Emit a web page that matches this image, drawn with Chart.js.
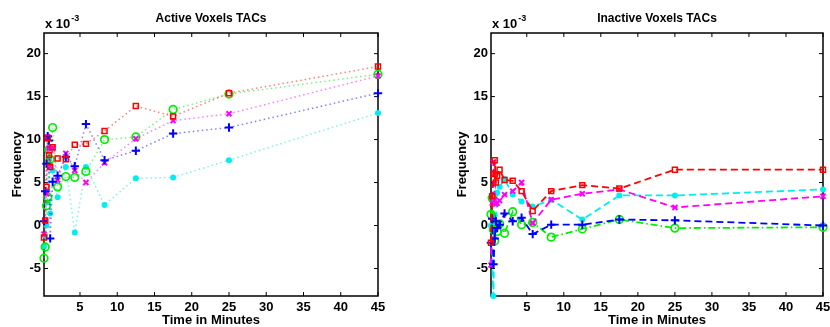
<!DOCTYPE html>
<html>
<head>
<meta charset="utf-8">
<script src="https://cdn.jsdelivr.net/npm/chart.js@4.4.0/dist/chart.umd.min.js"></script>
<style>
  html, body { margin: 0; padding: 0; background: #fff; }
  #wrap { position: relative; width: 830px; height: 327px; }
  .box { position: absolute; top: 0; height: 327px; }
</style>
</head>
<body>
<div id="wrap">
  <div class="box" style="left:0;width:415px"><canvas id="active" width="415" height="327"></canvas></div>
  <div class="box" style="left:442px;width:388px"><canvas id="inactive" width="388" height="327"></canvas></div>
</div>
<script>
// frame times (minutes) and axis ticks
const times = [0.17, 0.33, 0.5, 0.67, 0.83, 1.0, 1.33, 2.0, 3.1, 4.3, 5.8, 8.3, 12.5, 17.5, 25, 45];
const xTicks = [5, 10, 15, 20, 25, 30, 35, 40, 45];
const yTicks = [-5, 0, 5, 10, 15, 20];

// values are in units of 10^-3
const activeRed     = [-1.4, 0.6, 4.5, 10.2, 8.2, 6.8, 9.1, 7.8, 7.7, 9.4, 9.5, 11.0, 13.9, 12.7, 15.4, 18.5];
const activeBlue    = [0.5, 4.0, 7.2, 10.4, 9.9, -1.5, 5.1, 5.8, 8.0, 6.9, 11.8, 7.6, 8.7, 10.7, 11.4, 15.4];
const activeMagenta = [-1.0, 0.5, 3.7, 10.3, 9.0, 6.9, 9.0, 5.3, 8.4, 6.4, 5.0, 7.3, 10.1, 12.2, 13.0, 17.4];
const activeGreen   = [-3.8, -2.5, 2.3, 3.3, 8.8, 7.7, 11.4, 4.5, 5.7, 5.6, 6.3, 10.0, 10.3, 13.5, 15.3, 17.6];
const activeCyan    = [-2.4, -1.2, 0.0, 2.7, 7.7, 1.4, 6.4, 3.3, 6.8, -0.8, 6.8, 2.4, 5.5, 5.6, 7.6, 13.1];

const inactiveRed     = [-2.0, 3.4, 6.0, 7.6, 5.0, 5.8, 6.5, 5.3, 5.2, 4.0, 1.7, 4.0, 4.7, 4.3, 6.5, 6.5];
const inactiveBlue    = [-2.0, 0.8, -4.5, -1.5, 0.5, -0.3, 0.1, 1.4, 0.5, 0.9, -1.0, 0.1, 0.1, 0.7, 0.6, 0.0];
const inactiveMagenta = [-4.6, 2.6, 7.4, 3.0, 2.5, 2.6, 2.9, 3.6, 4.0, 5.0, 0.3, 3.0, 3.7, 4.2, 2.1, 3.4];
const inactiveGreen   = [1.3, 3.2, -0.5, -1.8, 0.0, -0.7, 0.2, -0.9, 1.6, 0.1, 0.35, -1.35, -0.4, 0.7, -0.3, -0.2];
const inactiveCyan    = [0.0, -4.2, -8.2, 1.2, 0.2, 3.8, 4.5, 5.4, 3.6, 2.8, 2.2, 3.0, 0.7, 3.5, 3.5, 4.2];

const family = '"Liberation Sans", Arial, Helvetica, sans-serif';

// marker look per series (matlab s, +, x, o, .)
const markers = {
    red:     {color: '#ff0000', style: 'rect',     radius: 3.5, width: 1.5, fill: false},
    blue:    {color: '#0000ff', style: 'cross',    radius: 4.2, width: 2,   fill: false},
    magenta: {color: '#ff00ff', style: 'crossRot', radius: 3.5, width: 2,   fill: false},
    green:   {color: '#00ee00', style: 'circle',   radius: 3.8, width: 1.7, fill: false},
    cyan:    {color: '#00eeee', style: 'circle',   radius: 3,   width: 0,   fill: true}
};

function makeSet(vals, name, lineColor, dash, lineWidth) {
    const m = markers[name];
    return {
        data: times.map((t, i) => ({x: t, y: vals[i]})),
        borderColor: lineColor,
        borderWidth: lineWidth,
        borderDash: dash,
        fill: false,
        tension: 0,
        pointStyle: m.style,
        pointRadius: m.radius,
        pointBorderWidth: m.width,
        pointBorderColor: m.color,
        pointBackgroundColor: m.fill ? m.color : 'rgba(0,0,0,0)',
        clip: false
    };
}

const matlabAxes = {
    id: 'matlabAxes',
    beforeDatasetsDraw(chart) {
        const {ctx, chartArea: a, scales: {x, y}} = chart;
        ctx.save();
        ctx.strokeStyle = '#000';
        ctx.lineWidth = 1.5;
        ctx.strokeRect(a.left, a.top, a.right - a.left, a.bottom - a.top);
        ctx.beginPath();
        for (const t of xTicks) {
            const px = x.getPixelForValue(t);
            ctx.moveTo(px, a.bottom); ctx.lineTo(px, a.bottom - 4);
            ctx.moveTo(px, a.top); ctx.lineTo(px, a.top + 4);
        }
        for (const t of yTicks) {
            const py = y.getPixelForValue(t);
            ctx.moveTo(a.left, py); ctx.lineTo(a.left + 4, py);
            ctx.moveTo(a.right, py); ctx.lineTo(a.right - 4, py);
        }
        ctx.lineWidth = 1;
        ctx.stroke();
        ctx.restore();
    },
    afterDraw(chart) {
        const {ctx, chartArea: a} = chart;
        ctx.save();
        ctx.fillStyle = '#000';
        ctx.textBaseline = 'alphabetic';
        ctx.font = 'bold 13px ' + family;
        ctx.fillText('x 10', a.left + 1, 28);
        const w = ctx.measureText('x 10').width;
        ctx.font = 'bold 9px ' + family;
        ctx.fillText('-3', a.left + 2 + w, 21);
        ctx.restore();
    }
};

function makeChart(id, title, sets, yWidth, titlePad, padRight) {
    const tickFont = {family: family, size: 13, weight: 'bold'};
    return new Chart(document.getElementById(id), {
        type: 'line',
        data: {datasets: sets},
        plugins: [matlabAxes],
        options: {
            responsive: false,
            animation: false,
            layout: {padding: {top: 0, right: padRight, bottom: 0, left: 0}},
            plugins: {
                legend: {display: false},
                tooltip: {enabled: false},
                title: {
                    display: true, text: title, color: '#000', fullSize: false,
                    font: {family: family, size: 12, weight: 'bold', lineHeight: 1.2},
                    padding: {top: 11, bottom: 7.6}
                }
            },
            scales: {
                x: {
                    type: 'linear', min: 0.17, max: 45,
                    afterBuildTicks: s => { s.ticks = xTicks.map(v => ({value: v})); },
                    afterFit: s => { s.height = 31; s.paddingLeft = 0; s.paddingRight = 0; },
                    grid: {display: false, drawTicks: false},
                    border: {display: false},
                    ticks: {color: '#000', font: tickFont, padding: 4, maxRotation: 0, autoSkip: false},
                    title: {
                        display: true, text: 'Time in Minutes', color: '#000',
                        font: {family: family, size: 13, weight: 'bold', lineHeight: 1},
                        padding: {top: 0, bottom: 0}
                    }
                },
                y: {
                    type: 'linear', min: -8.2, max: 22.4,
                    afterBuildTicks: s => { s.ticks = yTicks.map(v => ({value: v})); },
                    afterFit: s => { s.width = yWidth; s.paddingTop = 0; s.paddingBottom = 0; },
                    grid: {display: false, drawTicks: false},
                    border: {display: false},
                    ticks: {color: '#000', font: tickFont, padding: 3},
                    title: {
                        display: true, text: 'Frequency', color: '#000',
                        font: {family: family, size: 13, weight: 'bold', lineHeight: 1.2},
                        padding: {top: titlePad, bottom: 0}
                    }
                }
            }
        }
    });
}

const dotted = [1.5, 3];
makeChart('active', 'Active Voxels TACs', [
    makeSet(activeRed, 'red', 'rgba(255,0,0,0.5)', dotted, 1.5),
    makeSet(activeBlue, 'blue', 'rgba(0,0,255,0.5)', dotted, 1.5),
    makeSet(activeMagenta, 'magenta', 'rgba(255,0,255,0.5)', dotted, 1.5),
    makeSet(activeGreen, 'green', 'rgba(0,230,0,0.5)', dotted, 1.5),
    makeSet(activeCyan, 'cyan', 'rgba(0,230,230,0.5)', dotted, 1.5)
], 44, 10, 37);

const dashed = [7, 4];
makeChart('inactive', 'Inactive Voxels TACs', [
    makeSet(inactiveRed, 'red', '#ff0000', dashed, 1.8),
    makeSet(inactiveBlue, 'blue', '#0000ff', dashed, 1.8),
    makeSet(inactiveMagenta, 'magenta', '#ff00ff', dashed, 1.8),
    makeSet(inactiveGreen, 'green', '#00ee00', [7, 3, 1.5, 3], 1.8),
    makeSet(inactiveCyan, 'cyan', '#00eeee', dashed, 1.8)
], 49, 13, 7);
</script>
</body>
</html>
